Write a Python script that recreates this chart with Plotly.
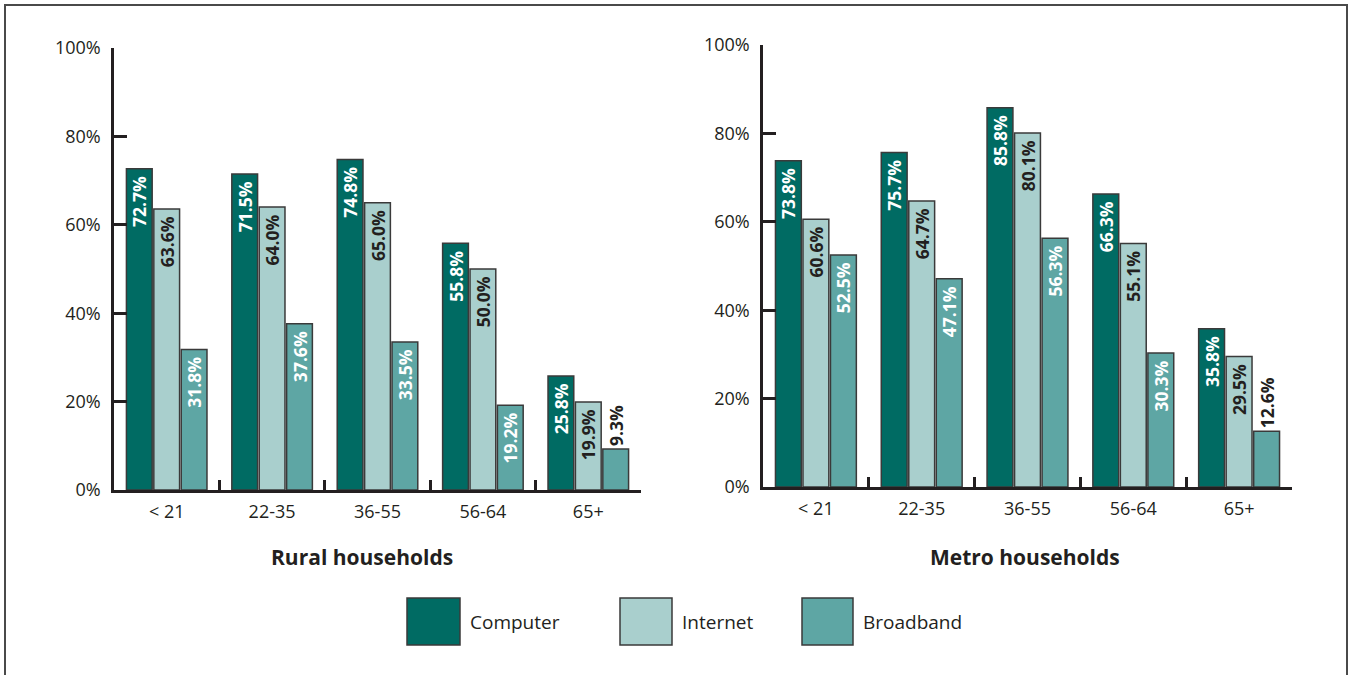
import plotly.graph_objects as go

W, H = 1350, 675

age_groups = ["< 21", "22-35", "36-55", "56-64", "65+"]
series_names = ["Computer", "Internet", "Broadband"]

rural_computer = [72.7, 71.5, 74.8, 55.8, 25.8]
rural_internet = [63.6, 64.0, 65.0, 50.0, 19.9]
rural_broadband = [31.8, 37.6, 33.5, 19.2, 9.3]

metro_computer = [73.8, 75.7, 85.8, 66.3, 35.8]
metro_internet = [60.6, 64.7, 80.1, 55.1, 29.5]
metro_broadband = [52.5, 47.1, 56.3, 30.3, 12.6]

panel_titles = ["Rural households", "Metro households"]
y_ticks = [0, 20, 40, 60, 80, 100]
y_tick_labels = ["0%", "20%", "40%", "60%", "80%", "100%"]

colors = {"Computer": "#006b63", "Internet": "#a9cfcd", "Broadband": "#5ea6a4"}
inside_text_color = {"Computer": "white", "Internet": "#231f20", "Broadband": "white"}
DARK = "#231f20"
FONT = "Open Sans"
LABEL_SIZE = 17.5

def px(x):
    return x / W

def py(y):
    return 1 - y / H

fig = go.Figure()

panels = [
    ("x", "y", [rural_computer, rural_internet, rural_broadband]),
    ("x2", "y2", [metro_computer, metro_internet, metro_broadband]),
]

for xa, ya, data in panels:
    for name, vals in zip(series_names, data):
        positions = ["inside" if v >= 15 else "outside" for v in vals]
        tcolors = [inside_text_color[name] if p == "inside" else DARK for p in positions]
        fig.add_trace(go.Bar(
            x=age_groups, y=vals, name=name, xaxis=xa, yaxis=ya,
            marker=dict(color=colors[name], line=dict(color="#3a3a3a", width=1.5)),
            text=[f"{v:.1f}%\u00a0" if p == "inside" else f"{v:.1f}%"
                  for v, p in zip(vals, positions)],
            textposition=positions,
            insidetextanchor="end",
            textangle=-90,
            textfont=dict(family=FONT, size=LABEL_SIZE, color=tcolors, weight="bold"),
            cliponaxis=False,
            showlegend=False,
            hoverinfo="skip",
        ))

axis_common_x = dict(
    type="category", showline=True, linecolor=DARK, linewidth=2.5,
    ticks="inside", tickson="boundaries", ticklen=10, tickwidth=2.5, tickcolor=DARK,
    tickfont=dict(family=FONT, size=18, color=DARK), showgrid=False, zeroline=False,
    ticklabelstandoff=4, fixedrange=True, automargin=False,
)
axis_common_y = dict(
    range=[0, 100], tickmode="array", tickvals=y_ticks, ticktext=y_tick_labels,
    showline=True, linecolor=DARK,
    linewidth=2.5, ticks="inside", ticklen=13, tickwidth=2.5, tickcolor=DARK,
    tickfont=dict(family=FONT, size=18, color=DARK), showgrid=False, zeroline=False,
    ticklabelstandoff=7, fixedrange=True, automargin=False,
)

fig.update_layout(
    width=W, height=H,
    margin=dict(l=0, r=0, t=0, b=0, pad=0, autoexpand=False),
    paper_bgcolor="white", plot_bgcolor="white",
    barmode="group", bargap=0.22, bargroupgap=0.06,
    uniformtext=dict(minsize=LABEL_SIZE, mode="show"),
    xaxis=dict(domain=[px(114), px(641)], anchor="y", **axis_common_x),
    yaxis=dict(domain=[py(490), py(48)], anchor="x", **axis_common_y),
    xaxis2=dict(domain=[px(763), px(1292)], anchor="y2", **axis_common_x),
    yaxis2=dict(domain=[py(487), py(45)], anchor="x2", **axis_common_y),
    font=dict(family=FONT, color=DARK),
)

# panel titles
for title, cx in zip(panel_titles, [362, 1025]):
    fig.add_annotation(text=f"<b>{title}</b>", x=px(cx), y=py(557), xref="paper", yref="paper",
                       showarrow=False, font=dict(family=FONT, size=21, color=DARK),
                       xanchor="center", yanchor="middle")

# custom legend with large swatches
legend_pos = [(407, 460, 468), (620, 672, 680), (802, 853, 861)]
for name, (bx0, bx1, tx) in zip(series_names, legend_pos):
    fig.add_shape(type="rect", xref="paper", yref="paper",
                  x0=px(bx0), x1=px(bx1), y0=py(645), y1=py(598),
                  fillcolor=colors[name], line=dict(color="#3a3a3a", width=1.5))
    fig.add_annotation(text=name, x=px(tx), y=py(622), xref="paper", yref="paper",
                       showarrow=False, xanchor="left", yanchor="middle",
                       font=dict(family=FONT, size=19, color=DARK))

# outer frame
fig.add_shape(type="rect", xref="paper", yref="paper",
              x0=px(5), x1=px(1347), y0=py(690), y1=py(5),
              line=dict(color="#4a4a4a", width=2), fillcolor="rgba(0,0,0,0)", layer="below")

fig.write_html("out.html")
